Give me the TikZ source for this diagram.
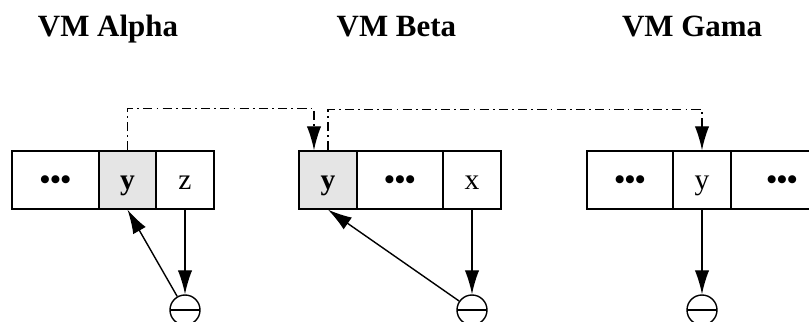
\documentclass[tikz,border=0pt]{standalone}
\usepackage{fontspec}
\setmainfont{Liberation Serif}
\usepackage{xcolor}
\usepackage{tikz}
\usetikzlibrary{arrows.meta,calc}
\definecolor{cellgray}{HTML}{E5E5E5}

\begin{document}
\begin{tikzpicture}[>={Latex[length=6mm,width=3.6mm]},
 cell/.style={draw,line width=1pt,minimum height=1.45cm,minimum width=1.45cm,inner sep=0pt,text height=18pt,text depth=5pt,font=\fontsize{21}{21}\selectfont},
 wide/.style={cell,minimum width=2.15cm},
 hot/.style={cell,fill=cellgray,font=\fontsize{21}{21}\selectfont\bfseries},
 vm/.style={anchor=base,font=\fontsize{22}{22}\selectfont\bfseries},
 gnd/.style={circle,draw,line width=1pt,minimum size=0.75cm,inner sep=0pt,
  path picture={\draw[line width=1pt] (path picture bounding box.west) -- (path picture bounding box.east);}},
 lnk/.style={->,line width=1pt},
 ref/.style={->,line width=1pt,dash pattern=on 6.5pt off 3pt on 1.2pt off 3pt}]
\clip (0,0) rectangle (20.225,8.05);
\node[vm] (alpha) at (2.7,7.125) {VM Alpha};
\node[vm] (beta) at (9.91,7.125) {VM Beta};
\node[vm] (gama) at (17.3,7.125) {VM Gama};
\node[wide,minimum width=2.175cm,font=\fontsize{21}{21}\selectfont\bfseries] (adots) at (1.3875,3.55) {•••};
\node[hot,minimum width=1.425cm] (ay) at (3.1875,3.55) {y};
\node[cell] (az) at (4.625,3.55) {z};
\node[hot] (by) at (8.2,3.55) {y};
\node[wide,font=\fontsize{21}{21}\selectfont\bfseries] (bdots) at (10.0,3.55) {•••};
\node[cell] (bx) at (11.8,3.55) {x};
\node[wide,font=\fontsize{21}{21}\selectfont\bfseries] (gdots) at (15.75,3.55) {•••};
\node[cell] (gy) at (17.55,3.55) {y};
\node[wide,minimum width=2.55cm,font=\fontsize{21}{21}\selectfont\bfseries] (gdots2) at (19.55,3.55) {•••};
\node[gnd] (ag) at (4.625,0.3) {};
\node[gnd] (bg) at (11.8,0.3) {};
\node[gnd] (gg) at (17.55,0.3) {};
\draw[lnk] (az) -- (ag);
\draw[lnk] (ag) -- (ay.south);
\draw[lnk] (bx) -- (bg);
\draw[lnk] (bg) -- (by.south);
\draw[lnk] (gy) -- (gg);
\draw[ref] (ay.north) -- ++(0,1.05) -| ([xshift=-0.35cm]by.north);
\draw[ref] (by.north) -- ++(0,1.025) -| (gy.north);
\end{tikzpicture}
\end{document}
